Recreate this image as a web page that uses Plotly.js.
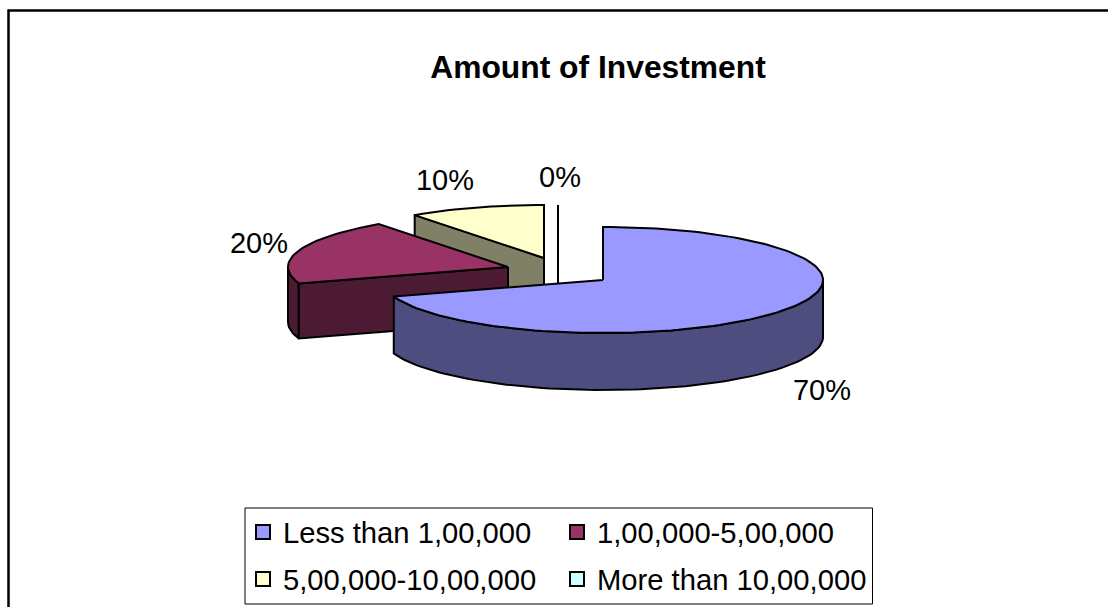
<!DOCTYPE html>
<html><head><meta charset="utf-8">
<script src="https://cdn.plot.ly/plotly-3.0.1.min.js"></script>
<style>html,body{margin:0;padding:0;background:#fff}#c{width:1108px;height:607px}</style>
</head><body><div id="c"></div>
<script>
const categories = ['Less than 1,00,000','1,00,000-5,00,000','5,00,000-10,00,000','More than 10,00,000'];
const shares = [70,20,10,0];
const topColors = ['#9999FF','#993366','#FFFFCC','#CCFFFF'];
const sideColors = ['#4D4D80','#4D1A33','#808066','#668080'];
const pieCentres = [[603,280],[508,267],[544,258],[558,258]];
const depths = [57,55,57,57];
const labelSpots = [[822,393],[259,246],[445,183],[560,180]];
const RX=220, RY=53;

function pt(c,deg,drop){const a=deg*Math.PI/180;return [c[0]+RX*Math.sin(a),c[1]-RY*Math.cos(a)+(drop||0)];}
function arc(c,a,b,drop){const out=[];const n=Math.max(2,Math.ceil(Math.abs(b-a)/2));
  for(let i=0;i<=n;i++)out.push(pt(c,a+(b-a)*i/n,drop));return out;}
function poly(points,fill,lw){points=points.concat([points[0]]);
  return {type:'scatter',mode:'lines',x:points.map(p=>p[0]),y:points.map(p=>p[1]),fill:'toself',fillcolor:fill,
    line:{color:'#000',width:lw||2},showlegend:false,hoverinfo:'skip'};}

// slice angles from the data
const starts=[];let acc=0;shares.forEach(v=>{starts.push(acc);acc+=v*3.6;});
const ends=starts.map((s,i)=>s+shares[i]*3.6);

const traces=[];
// paint order: back slices first, main slice last
[3,2,1,0].forEach(i=>{
  const c=pieCentres[i],s=starts[i],e=ends[i],v=[c[0],c[1]],D=depths[i];
  if(shares[i]===0){
    traces.push({type:'scatter',mode:'lines',x:[pt(c,s)[0],pt(c,s)[0]],y:[pt(c,s)[1],c[1]+D],
      line:{color:'#000',width:2},showlegend:false,hoverinfo:'skip'});
    return;
  }
  // outer rim: the part of the arc on the near half of the ellipse
  const rimA=Math.max(s,90),rimB=Math.min(e,270);
  if(rimB>rimA){
    traces.push(poly(arc(c,rimA,rimB,0).concat(arc(c,rimB,rimA,D)),sideColors[i]));
  }
  // cut wall along the slice's starting edge, seen when it faces the viewer
  if(s>180){
    traces.push(poly([v,pt(c,s),pt(c,s,D),[c[0],c[1]+D]],sideColors[i]));
  }
  traces.push(poly([v].concat(arc(c,s,e,0)),topColors[i]));
});
// percentage labels
traces.push({type:'scatter',mode:'text',x:labelSpots.map(p=>p[0]),y:labelSpots.map(p=>p[1]),
  text:shares.map(v=>v+'%'),textposition:'middle center',
  textfont:{family:'Liberation Sans',size:29,color:'#000'},showlegend:false,hoverinfo:'skip'});
// legend entries
categories.forEach((n,i)=>traces.push({type:'scatter',mode:'markers',x:[null],y:[null],name:n,
  legend:i<2?'legend':'legend2',
  marker:{symbol:'square',size:14,color:topColors[i],line:{color:'#000',width:2}}}));

const legendBase={orientation:'h',bgcolor:'rgba(0,0,0,0)',borderwidth:0,font:{family:'Liberation Sans',size:29.2,color:'#000'},
  entrywidth:269,entrywidthmode:'pixels',itemwidth:30,xanchor:'left',yanchor:'middle',x:243/1108,traceorder:'normal'};

const layout={width:1108,height:607,margin:{l:0,r:0,t:0,b:0},paper_bgcolor:'#fff',plot_bgcolor:'#fff',
  xaxis:{range:[0,1108],visible:false,fixedrange:true},
  yaxis:{range:[607,0],visible:false,fixedrange:true},
  title:{text:'<b>Amount of Investment</b>',font:{family:'Liberation Sans',size:31.8,color:'#000'},
    x:598/1108,xanchor:'center',y:1-67/607,yanchor:'middle'},
  legend:Object.assign({},legendBase,{y:1-532/607}),
  legend2:Object.assign({},legendBase,{y:1-579/607}),
  shapes:[
    {type:'rect',xref:'x',yref:'y',x0:245,x1:872.5,y0:508,y1:604,line:{color:'#000',width:1},fillcolor:'rgba(0,0,0,0)',layer:'below'},
    {type:'path',xref:'x',yref:'y',path:'M8.5,607 L8.5,10.5 L1108,10.5',line:{color:'#000',width:2.5},layer:'below'}
  ]};
Plotly.newPlot('c',traces,layout,{displayModeBar:false,staticPlot:true});
</script></body></html>
